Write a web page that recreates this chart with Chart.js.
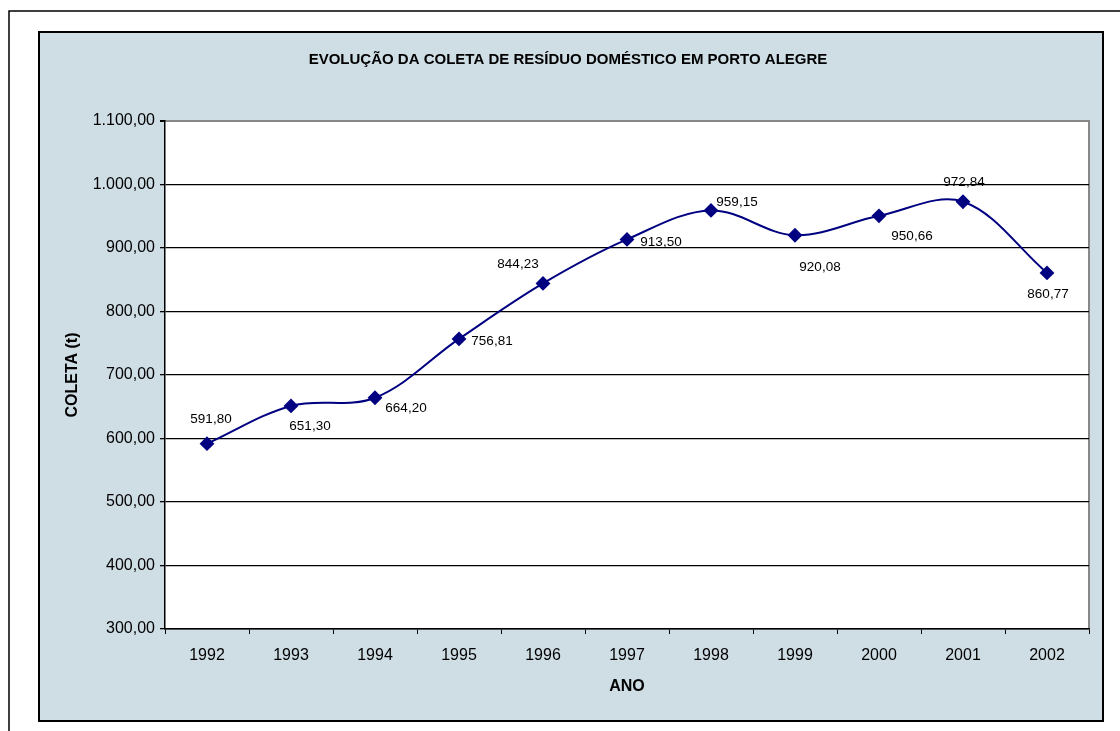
<!DOCTYPE html>
<html>
<head>
<meta charset="utf-8">
<script src="https://cdn.jsdelivr.net/npm/chart.js@4"></script>
<style>
  html, body { margin: 0; padding: 0; background: #fff; }
  canvas { display: block; }
</style>
</head>
<body>
<canvas id="myChart" width="1120" height="731"></canvas>
<script>
// DATA
var anos = ['1992', '1993', '1994', '1995', '1996', '1997', '1998', '1999', '2000', '2001', '2002'];
var coleta = [591.80, 651.30, 664.20, 756.81, 844.23, 913.50, 959.15, 920.08, 950.66, 972.84, 860.77];
var yMin = 300, yMax = 1100, yStep = 100;

// where each value label sits relative to its point (dx, dy)
var labelOffsets = [[4, -24], [19, 20], [31, 11], [33, 2], [-25, -19], [34, 3], [26, -8], [25, 32], [33, 20], [1, -19], [1, 21]];

var FONT = '"Liberation Sans", Arial, sans-serif';

function fmtBR(v) {
  var s = v.toFixed(2).split('.');
  var inteiro = s[0].replace(/\B(?=(\d{3})+(?!\d))/g, '.');
  return inteiro + ',' + s[1];
}

// background frames + titles
var framePlugin = {
  id: 'frames',
  beforeDraw: function (chart) {
    var c = chart.ctx;
    var a = chart.chartArea;
    c.save();
    c.fillStyle = '#fff';
    c.fillRect(0, 0, chart.width, chart.height);
    // outer frame
    c.strokeStyle = '#000';
    c.lineWidth = 1.5;
    c.beginPath();
    c.moveTo(9, chart.height);
    c.lineTo(9, 11);
    c.lineTo(chart.width, 11);
    c.stroke();
    // panel
    c.fillStyle = '#cfdde5';
    c.fillRect(39, 32, 1064, 689);
    c.lineWidth = 2;
    c.strokeRect(39, 32, 1064, 689);
    // plot area
    c.fillStyle = '#fff';
    c.fillRect(a.left, a.top, a.right - a.left, a.bottom - a.top);
    c.strokeStyle = '#888';
    c.lineWidth = 2;
    c.beginPath();
    c.moveTo(a.left, a.top);
    c.lineTo(a.right, a.top);
    c.lineTo(a.right, a.bottom);
    c.stroke();
    c.restore();
  },
  afterDraw: function (chart) {
    var c = chart.ctx;
    var a = chart.chartArea;
    c.save();
    c.fillStyle = '#000';
    c.textAlign = 'center';
    c.textBaseline = 'middle';
    c.font = 'bold 15px ' + FONT;
    c.fillText('EVOLUÇÃO DA COLETA DE RESÍDUO DOMÉSTICO EM PORTO ALEGRE', 568, 60);
    c.font = 'bold 16px ' + FONT;
    c.fillText('ANO', (a.left + a.right) / 2, 687);
    c.translate(73, (a.top + a.bottom) / 2);
    c.rotate(-Math.PI / 2);
    c.fillText('COLETA (t)', 0, 0);
    c.restore();
  },
  afterDatasetsDraw: function (chart) {
    var c = chart.ctx;
    var meta = chart.getDatasetMeta(0);
    c.save();
    c.fillStyle = '#000';
    c.font = '13.5px ' + FONT;
    c.textAlign = 'center';
    c.textBaseline = 'middle';
    meta.data.forEach(function (pt, i) {
      var off = labelOffsets[i];
      c.fillText(fmtBR(coleta[i]), pt.x + off[0], pt.y + off[1]);
    });
    c.restore();
  }
};

//CONFIG
const config = {
  type: 'line',
  data: {
    labels: anos,
    datasets: [{
      data: coleta,
      borderColor: '#000080',
      backgroundColor: '#000080',
      borderWidth: 2,
      tension: 0.35,
      pointStyle: 'rectRot',
      pointRadius: 6,
      pointHoverRadius: 6,
      pointBackgroundColor: '#000080',
      pointBorderColor: '#000080'
    }]
  },
  options: {
    responsive: false,
    animation: false,
    layout: { padding: { left: 0, top: 121, right: 31, bottom: 0 } },
    plugins: {
      legend: { display: false },
      tooltip: { enabled: false },
      title: { display: false }
    },
    scales: {
      x: {
        offset: true,
        afterFit: function (s) { s.height = 102; },
        grid: { offset: true, drawOnChartArea: false, color: '#000', tickLength: 5 },
        border: { color: '#000', width: 1.5 },
        ticks: { color: '#000', padding: 12, font: { family: FONT, size: 16 } }
      },
      y: {
        min: yMin,
        max: yMax,
        afterFit: function (s) { s.width = 165; },
        grid: {
          color: function (ctx) { return ctx.tick && ctx.tick.value === yMax ? '#888' : '#000'; },
          lineWidth: function (ctx) { return ctx.tick && ctx.tick.value === yMax ? 2 : 1.3; },
          tickColor: '#000',
          tickLength: 5
        },
        border: { color: '#000', width: 1.5 },
        ticks: {
          stepSize: yStep,
          color: '#000',
          padding: 5,
          font: { family: FONT, size: 16 },
          callback: function (v) { return fmtBR(v); }
        }
      }
    }
  },
  plugins: [framePlugin]
};

//Render
const myChart = new Chart(document.getElementById('myChart'), config);
</script>
</body>
</html>
